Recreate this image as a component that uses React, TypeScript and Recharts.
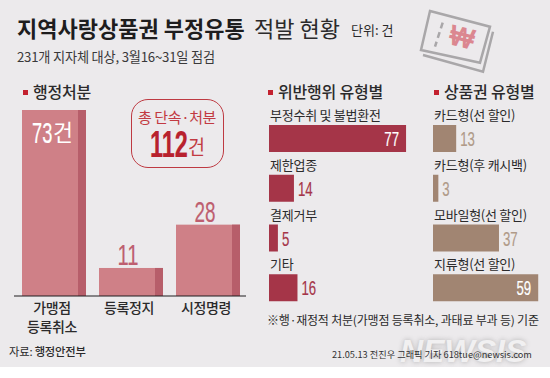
import React from 'react';
import { BarChart, Bar, XAxis, YAxis, LabelList } from 'recharts';

const FONT = '"Noto Sans CJK KR", "Noto Sans", sans-serif';
const NARROW = '"Liberation Sans Narrow", "Liberation Sans", sans-serif';

const actionNames = ['가맹점\n등록취소', '등록정지', '시정명령'];
const actionValues = [73, 11, 28];

const violationNames = ['부정수취 및 불법환전', '제한업종', '결제거부', '기타'];
const violationValues = [77, 14, 5, 16];

const voucherNames = ['카드형(선 할인)', '카드형(후 캐시백)', '모바일형(선 할인)', '지류형(선 할인)'];
const voucherValues = [13, 3, 37, 59];

const actionData = actionNames.map((name, i) => ({ name, value: actionValues[i] }));
const violationData = violationNames.map((name, i) => ({ name, value: violationValues[i] }));
const voucherData = voucherNames.map((name, i) => ({ name, value: voucherValues[i] }));

const BG = '#ECEAEC';
const TEXT = '#2B2A2B';
const ROSE = '#CF8087';
const ROSE_DARK = '#B75E6A';
const CRIMSON = '#A53548';
const TAN = '#A18572';
const TAN_LIGHT = '#B09A88';

// condensed digits, squeezed to the width they have in the picture
const Digits = ({ x, y, text, size, fill, anchor = 'start', weight = 400 }: any) => (
  <text
    x={x}
    y={y}
    fill={fill}
    stroke={fill}
    strokeWidth={0.2}
    fontFamily={NARROW}
    fontSize={size}
    fontWeight={weight}
    textAnchor={anchor}
    textLength={String(text).length * size * 0.35}
    lengthAdjust="spacingAndGlyphs"
  >
    {text}
  </text>
);

const ShadedBar = ({ x, y, width, height }: any) => (
  <g>
    <rect x={x} y={y} width={width} height={height} fill={ROSE} />
    <rect x={x + width - 8} y={y} width={8} height={height} fill={ROSE_DARK} />
  </g>
);

const ActionLabel = ({ x, y, width, value }: any) => {
  const cx = x + width / 2;
  if (value > 50) {
    return (
      <g>
        <Digits x={x + 10} y={y + 33} text={value} size={29} fill="#fff" />
        <text x={x + 31} y={y + 31} fill="#fff" fontFamily={FONT} fontSize={23} textLength={20} lengthAdjust="spacingAndGlyphs">건</text>
      </g>
    );
  }
  return <Digits x={cx - 3} y={y - 3} text={value} size={30} fill="#BE5F70" anchor="middle" />;
};

const ActionTick = ({ x, y, payload }: any) => (
  <text x={x - 1.5} y={y} fill={TEXT} fontFamily={FONT} fontSize={14} fontWeight={500} textAnchor="middle" letterSpacing={-0.4}>
    {String(payload.value).split('\n').map((line, i) => (
      <tspan key={line} x={x - 1.5} y={y + 9 + i * 19}>{line}</tspan>
    ))}
  </text>
);

const makeValueLabel = (fill: string, threshold: number) => ({ x, y, width, height, value }: any) => {
  const base = y + height / 2 + 7.5;
  if (value > threshold) {
    return <Digits x={x + width - 7} y={base} text={value} size={21} fill="#fff" anchor="end" />;
  }
  return <Digits x={x + width + 4} y={base} text={value} size={21} fill={fill} />;
};

const NameLabel = ({ x, y, value }: any) => (
  <text x={x + 1} y={y - 5} fill={TEXT} fontFamily={FONT} fontSize={13} letterSpacing={-0.25}>{value}</text>
);

const HorizontalBars = ({ data, color, labelColor, max, left, width, marginLeft, marginRight }: any) => (
  <div style={{ position: 'absolute', left, top: 100, width, height: 220 }}>
    <BarChart
      width={width}
      height={220}
      data={data}
      layout="vertical"
      margin={{ top: 14, right: marginRight, bottom: 7, left: marginLeft }}
      barCategoryGap={0}
    >
      <XAxis type="number" domain={[0, max]} hide />
      <YAxis type="category" dataKey="name" hide />
      <Bar dataKey="value" fill={color} barSize={27} isAnimationActive={false}>
        <LabelList dataKey="value" content={makeValueLabel(labelColor, 50)} />
        <LabelList dataKey="name" content={NameLabel} />
      </Bar>
    </BarChart>
  </div>
);

const Txt = ({ x, y, size, weight = 400, color = TEXT, spacing = 0, children }: any) => (
  <div
    style={{
      position: 'absolute',
      left: x,
      top: y,
      fontFamily: FONT,
      fontSize: size,
      fontWeight: weight,
      color,
      letterSpacing: spacing,
      lineHeight: 1,
      whiteSpace: 'nowrap',
    }}
  >
    {children}
  </div>
);

const Heading = ({ x, children }: any) => (
  <>
    <div style={{ position: 'absolute', left: x, top: 90, width: 4.5, height: 4.5, background: '#C3212F' }} />
    <Txt x={x + 10} y={83} size={16} weight={500} spacing={-0.2}>{children}</Txt>
  </>
);

const Ticket = () => (
  <svg width={550} height={378} style={{ position: 'absolute', left: 0, top: 0 }}>
    <g fill="none" stroke="#A9A7A9" strokeWidth={2.5}>
      <polygon points="430,11 490,26.7 480,62.7 421,50" />
      <polyline points="493,31.7 483,71.7 423,55" />
      <line x1="442.7" y1="22.7" x2="435" y2="46.7" strokeDasharray="6 4" />
    </g>
    <text
      x={462}
      y={47}
      fill="#DB8790"
      fontFamily='"Liberation Sans", sans-serif'
      fontSize={29}
      fontWeight={700}
      textAnchor="middle"
      textLength={25}
      lengthAdjust="spacingAndGlyphs"
      transform="rotate(14 462 37)"
    >
      ₩
    </text>
  </svg>
);

export default function App() {
  return (
    <div style={{ position: 'absolute', left: 0, top: 0, width: 550, height: 378, background: '#fff', overflow: 'hidden' }}>
      <div style={{ position: 'absolute', left: 0, top: 0, width: 550, height: 367, background: BG }} />

      <Txt x={17} y={16} size={22} weight={700} color="#1E1D1E">지역사랑상품권 부정유통</Txt>
      <Txt x={254} y={16} size={22} color="#2B2A2B">적발 현황</Txt>
      <Txt x={351} y={23} size={13}>단위: 건</Txt>
      <Txt x={17} y={50} size={13.2} color="#3A393A" spacing={-0.2}>231개 지자체 대상, 3월16~31일 점검</Txt>
      <Ticket />

      <Heading x={23}>행정처분</Heading>
      <Heading x={268}>위반행위 유형별</Heading>
      <Heading x={434}>상품권 유형별</Heading>

      <div style={{ position: 'absolute', left: 0, top: 100, width: 260, height: 240 }}>
        <BarChart
          width={260}
          height={240}
          data={actionData}
          margin={{ top: 10, right: 14, bottom: 0, left: 14 }}
          barSize={64}
        >
          <XAxis
            dataKey="name"
            interval={0}
            padding={{ left: 1, right: 0 }}
            axisLine={{ stroke: '#1E1D1E', strokeWidth: 1 }}
            tickLine={false}
            tick={ActionTick}
            height={44}
          />
          <YAxis domain={[0, 73]} hide />
          <Bar dataKey="value" shape={ShadedBar} isAnimationActive={false}>
            <LabelList dataKey="value" content={ActionLabel} />
          </Bar>
        </BarChart>
      </div>

      <div
        style={{
          position: 'absolute',
          left: 131,
          top: 99,
          width: 91,
          height: 67,
          border: '1.5px solid #BE3A42',
          borderRadius: 17,
        }}
      />
      <Txt x={138} y={109} size={15} color="#C23A42" spacing={-0.4}>총 단속·처분</Txt>
      <svg width={550} height={378} style={{ position: 'absolute', left: 0, top: 0 }}>
        <Digits x={150} y={157} text="112" size={36} fill="#B8222E" weight={700} />
        <text x={188} y={155} fill="#C23A42" fontFamily={FONT} fontSize={20} textLength={17} lengthAdjust="spacingAndGlyphs">건</text>
      </svg>

      <HorizontalBars data={violationData} color={CRIMSON} labelColor={CRIMSON} max={100} left={260} width={190} marginLeft={9} marginRight={3} />
      <HorizontalBars data={voucherData} color={TAN} labelColor={TAN_LIGHT} max={60} left={425} width={125} marginLeft={8} marginRight={10} />

      <Txt x={267} y={314} size={12} spacing={-0.2}>※행·재정적 처분(가맹점 등록취소, 과태료 부과 등) 기준</Txt>
      <Txt x={9} y={346} size={11.3} spacing={-0.2}>자료: <span style={{ fontWeight: 500 }}>행정안전부</span></Txt>

      <div
        style={{
          position: 'absolute',
          left: 400,
          top: 335,
          fontFamily: '"Liberation Sans", sans-serif',
          fontSize: 32,
          fontStyle: 'italic',
          fontWeight: 700,
          color: '#F1F0F1',
          textShadow: '0 0 5px rgba(90,90,90,0.4)',
          lineHeight: 1,
        }}
      >
        NEWSIS
      </div>
      <Txt x={332} y={350} size={9.2} color="#333">21.05.13 전진우 그래픽 기자 618tue@newsis.com</Txt>
    </div>
  );
}
